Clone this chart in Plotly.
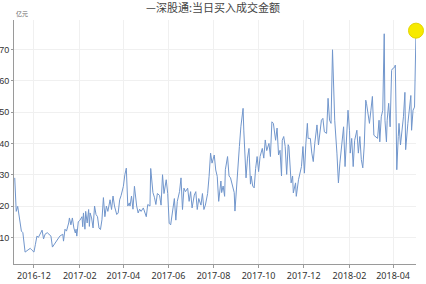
import pandas as pd
import plotly.graph_objects as go

# calendar days counted from 2016-12-01
day_offsets = [
    -26, -24, -22, -20, -17, -15, -12, -8, -5, -3, 0, 2, 4, 6, 9, 11, 13, 15, 18, 21,
    23, 25, 29, 32, 35, 39, 40, 42, 44, 47, 48, 50, 51, 52, 54, 56, 57, 58, 60, 62,
    65, 66, 67, 69, 70, 72, 74, 75, 76, 78, 80, 82, 84, 86, 88, 90, 92, 94, 96, 98,
    100, 103, 105, 107, 109, 112, 114, 116, 118, 121, 123, 125, 127, 129, 130, 132, 134, 136, 139, 141,
    143, 145, 148, 150, 152, 154, 157, 158, 161, 163, 165, 167, 170, 172, 174, 176, 179, 181, 183, 185,
    188, 190, 192, 194, 197, 199, 201, 203, 205, 208, 210, 212, 214, 217, 219, 221, 223, 226, 228, 230,
    232, 235, 237, 239, 241, 244, 246, 248, 250, 253, 254, 256, 258, 259, 262, 264, 266, 268, 271, 272,
    274, 276, 278, 280, 283, 284, 285, 287, 289, 291, 293, 294, 296, 298, 300, 302, 304, 306, 309, 311,
    313, 315, 318, 320, 322, 324, 327, 329, 331, 333, 335, 336, 338, 340, 342, 344, 345, 348, 350, 351,
    354, 355, 358, 360, 362, 364, 366, 368, 370, 371, 374, 376, 378, 380, 383, 385, 387, 389, 391, 393,
    396, 398, 400, 402, 404, 406, 407, 410, 412, 414, 416, 419, 421, 423, 425, 427, 428, 430, 432, 434,
    437, 439, 441, 443, 445, 447, 449, 450, 452, 454, 456, 458, 460, 462, 465, 467, 468, 470, 472, 474,
    475, 477, 478, 480, 482, 484, 485, 488, 489, 490, 491, 493, 494, 496, 498, 500, 502, 503, 506, 508,
    510, 511, 513, 515, 517,
]

# 当日买入成交金额 (亿元)
buy_amount = [
    29, 18.3, 19.9, 17, 12, 11.5, 5.3, 6, 6.5, 6, 5.3, 7.8, 10.4, 10, 11.5, 12.3, 9.5, 11, 11.5, 11,
    10.4, 6.9, 8.3, 9.4, 10.4, 11, 8.8, 12.6, 12, 14.6, 16.2, 14, 15, 16.2, 13, 11.4, 12.6, 10.4, 15, 15.4,
    16.6, 13.4, 17.8, 12.6, 18.3, 14.6, 18.9, 13.5, 17.8, 16.2, 13, 20, 17.3, 16.6, 13, 12.5, 15.6, 22.7, 16.6, 20,
    18.3, 22, 18.9, 23.2, 20, 17.3, 17.8, 22, 23.4, 26.3, 30, 32.1, 20, 21, 20, 23.2, 19, 26.3, 20, 17.8,
    19, 18.3, 19.4, 17.8, 16.6, 20.5, 20, 32, 24.3, 22.8, 20.5, 24, 23.4, 20.3, 30, 24, 28.4, 24, 14.5, 14,
    20.3, 22.4, 15.5, 21.5, 24.6, 29, 18.9, 25.7, 24.6, 25.7, 21.5, 24.6, 19.4, 23.5, 24.6, 18.9, 22.4, 20.3, 24, 18.9,
    20.3, 24, 29.5, 36.9, 33.7, 36.3, 31.5, 29.5, 21.5, 28, 24.3, 26.4, 23.1, 31.6, 35.8, 29.6, 29, 27, 24.3, 18.4,
    24.3, 31.6, 39, 45.3, 51.2, 44, 37.7, 29, 35.3, 38.4, 27, 29.6, 26.4, 25.8, 32, 35.8, 31, 35.8, 38.4, 35.3,
    41.1, 37.7, 40, 35.8, 46.9, 46.4, 41, 44.9, 36.3, 37.8, 29.6, 41, 42.2, 39, 30.1, 39.6, 39, 27.4, 29.6, 24.2,
    27.4, 23.1, 28.4, 30.5, 32.6, 39, 30.5, 40, 46.4, 41.6, 41.6, 36.9, 34.2, 40, 45.9, 39.5, 43.2, 47.4, 48, 43.7,
    43.2, 54.4, 47.4, 46.4, 69.9, 58, 47.4, 36.9, 27.4, 33.7, 39, 45.3, 32.6, 43.7, 50.6, 44.2, 36.9, 41.6, 32.6, 41,
    44.2, 36.9, 42.2, 34.8, 32.2, 39.5, 53.8, 52.8, 49.6, 46.4, 50.6, 55, 42.6, 42.2, 41.6, 47.4, 40.5, 48.5, 50.6, 75,
    47.4, 40.5, 47.4, 52.8, 45.3, 63.3, 63.8, 64.3, 65, 49.6, 31.6, 42.2, 46.4, 39.5, 43.2, 48.5, 56.3, 38, 46.4, 50,
    55.3, 44.2, 50.6, 51.6, 76,
]

y_ticks = [10, 20, 30, 40, 50, 60, 70]
title_text = "—深股通:当日买入成交金额"
unit_text = "亿元"

base = pd.Timestamp("2016-12-01")
dates = base + pd.to_timedelta(day_offsets, unit="D")

fig = go.Figure()
fig.add_trace(go.Scatter(
    x=dates, y=buy_amount, mode="lines",
    line=dict(color="#7196cc", width=1),
    hoverinfo="skip", showlegend=False,
))
fig.add_trace(go.Scatter(
    x=[dates[-1]], y=[buy_amount[-1]], mode="markers",
    marker=dict(size=15, color="#f7ea00", line=dict(color="#e3d400", width=1)),
    cliponaxis=False, showlegend=False, hoverinfo="skip",
))

fig.update_layout(
    width=426, height=284,
    margin=dict(l=14, r=10, t=20, b=20),
    paper_bgcolor="white", plot_bgcolor="white",
    font=dict(family="Noto Sans, Noto Sans CJK SC", size=9, color="#333333"),
    title=dict(text=title_text, x=0.5, xanchor="center", y=0.972, yanchor="middle",
               font=dict(family="Noto Sans CJK SC", size=11, color="#444444")),
    annotations=[dict(text=unit_text, xref="paper", yref="paper", x=0.0, y=1.0,
                      xanchor="left", yanchor="bottom", showarrow=False,
                      font=dict(family="Noto Sans CJK SC", size=6, color="#666666"))],
)
fig.update_xaxes(
    type="date",
    range=[base + pd.Timedelta(days=-27), base + pd.Timedelta(days=517)],
    tick0="2016-12-01", dtick="M2", tickformat="%Y-%m",
    showgrid=True, gridcolor="#f0f0f0", gridwidth=1,
    showline=True, linecolor="#9a9a9a", linewidth=1,
    ticks="outside", ticklen=3, tickcolor="#9a9a9a",
    tickfont=dict(size=9, color="#333333"),
    automargin=False, zeroline=False,
)
fig.update_yaxes(
    range=[1.5, 79.4], tickvals=y_ticks,
    showgrid=True, gridcolor="#f0f0f0", gridwidth=1,
    showline=True, linecolor="#9a9a9a", linewidth=1,
    ticks="outside", ticklen=2, tickcolor="#9a9a9a",
    ticklabelstandoff=0,
    tickfont=dict(family="Liberation Sans Narrow, Liberation Sans", size=9, color="#333333"),
    automargin=False, zeroline=False,
)

fig.write_html("out.html")
